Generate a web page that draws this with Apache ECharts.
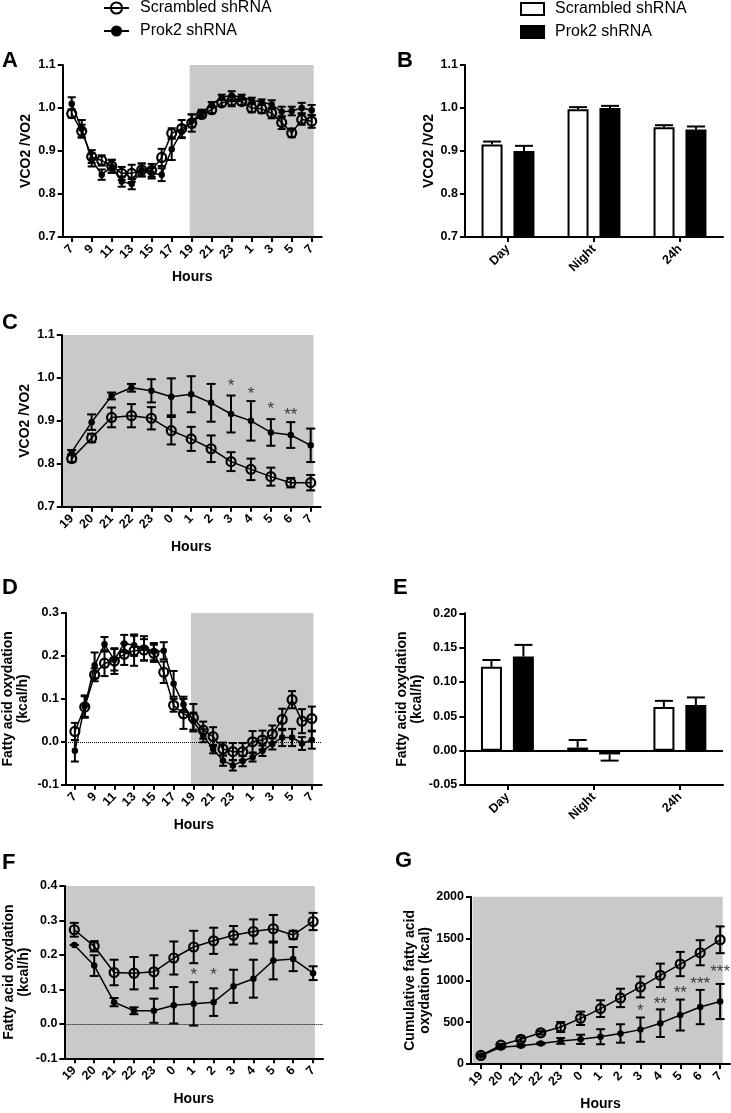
<!DOCTYPE html>
<html>
<head>
<meta charset="utf-8">
<script src="https://cdn.jsdelivr.net/npm/echarts@6/dist/echarts.min.js"></script>
<style>
html,body{margin:0;padding:0;background:#fff;}
#chart{width:731px;height:1113px;}
</style>
</head>
<body>
<div id="chart"></div>
<script>
// ---------- DATA ----------
const HOURS_FULL = ['7','8','9','10','11','12','13','14','15','16','17','18','19','20','21','22','23','0','1','2','3','4','5','6','7'];
const HOURS_FULL_TICKS = [0,2,4,6,8,10,12,14,16,18,20,22,24];
const HOURS_NIGHT = ['19','20','21','22','23','0','1','2','3','4','5','6','7'];
const HOURS_NIGHT_TICKS = [0,1,2,3,4,5,6,7,8,9,10,11,12];
const PERIODS = ['Day','Night','24h'];
const SCR_NAME = 'Scrambled shRNA';
const PRK_NAME = 'Prok2 shRNA';

// A: RQ (VCO2/VO2), 24 h
const A_SCR = [0.987,0.946,0.887,0.878,0.865,0.848,0.848,0.856,0.855,0.885,0.941,0.952,0.965,0.985,0.996,1.012,1.016,1.015,1.000,0.998,0.988,0.966,0.942,0.973,0.969];
const A_SCR_ERR = [0.010,0.015,0.015,0.012,0.015,0.015,0.020,0.015,0.015,0.020,0.012,0.020,0.020,0.008,0.008,0.008,0.012,0.008,0.010,0.010,0.012,0.015,0.010,0.012,0.015];
const A_PRK = [1.010,0.952,0.879,0.845,0.864,0.829,0.823,0.856,0.848,0.845,0.904,0.945,0.970,0.988,1.008,1.025,1.029,1.025,1.018,1.014,1.008,0.991,0.993,1.000,0.995];
const A_PRK_ERR = [0.015,0.020,0.015,0.012,0.015,0.012,0.012,0.015,0.012,0.015,0.025,0.015,0.015,0.008,0.006,0.006,0.010,0.006,0.006,0.006,0.010,0.012,0.010,0.012,0.012];
const A_SHADE = [11.8, 24.2];

// B: RQ by period
const B_SCR = [0.915, 0.997, 0.955];
const B_SCR_ERR = [0.007, 0.005, 0.005];
const B_PRK = [0.900, 1.000, 0.950];
const B_PRK_ERR = [0.012, 0.005, 0.007];

// C: RQ, night
const C_SCR = [0.812,0.860,0.908,0.912,0.906,0.877,0.858,0.835,0.805,0.787,0.770,0.756,0.756];
const C_SCR_ERR = [0.008,0.010,0.023,0.027,0.026,0.032,0.028,0.031,0.022,0.025,0.021,0.011,0.018];
const C_PRK = [0.827,0.897,0.958,0.977,0.970,0.956,0.962,0.942,0.916,0.900,0.873,0.867,0.843];
const C_PRK_ERR = [0.005,0.018,0.008,0.009,0.027,0.043,0.042,0.044,0.043,0.046,0.031,0.030,0.039];
const C_SHADE = [-0.44, 12.14];
const C_SIG = [[8,0.988,'*'],[9,0.969,'*'],[10,0.935,'*'],[11,0.919,'**']];

// D: fatty acid oxidation, 24 h
const D_SCR = [0.024,0.081,0.156,0.183,0.188,0.204,0.212,0.214,0.206,0.162,0.085,0.065,0.056,0.027,0.012,-0.017,-0.023,-0.023,0.000,0.004,0.018,0.052,0.098,0.048,0.054];
const D_SCR_ERR = [0.020,0.025,0.015,0.030,0.030,0.025,0.035,0.025,0.020,0.025,0.015,0.035,0.032,0.020,0.022,0.015,0.020,0.020,0.025,0.022,0.020,0.025,0.020,0.028,0.028];
const D_PRK = [-0.021,0.083,0.178,0.227,0.191,0.229,0.225,0.218,0.210,0.212,0.135,0.087,0.048,0.014,-0.017,-0.044,-0.055,-0.045,-0.036,-0.021,-0.005,0.010,0.010,-0.004,0.004];
const D_PRK_ERR = [0.025,0.025,0.030,0.017,0.025,0.020,0.025,0.028,0.020,0.020,0.030,0.018,0.020,0.015,0.010,0.012,0.012,0.012,0.010,0.012,0.013,0.020,0.020,0.015,0.020];
const D_SHADE = [11.76, 24.16];

// E: fatty acid oxidation by period
const E_SCR = [0.122, 0.0045, 0.0635];
const E_SCR_ERR = [0.010, 0.011, 0.009];
const E_PRK = [0.137, -0.0055, 0.0665];
const E_PRK_ERR = [0.017, 0.009, 0.011];

// F: fatty acid oxidation, night
const F_SCR = [0.273,0.225,0.149,0.147,0.151,0.191,0.223,0.241,0.257,0.268,0.276,0.258,0.297];
const F_SCR_ERR = [0.020,0.015,0.037,0.047,0.048,0.048,0.047,0.038,0.027,0.035,0.040,0.012,0.025];
const F_PRK = [0.229,0.169,0.063,0.038,0.038,0.054,0.058,0.063,0.109,0.131,0.184,0.188,0.147];
const F_PRK_ERR = [0.000,0.030,0.012,0.010,0.035,0.053,0.063,0.040,0.048,0.055,0.055,0.035,0.020];
const F_SHADE = [-0.45, 12.09];
const F_SIG = [[6,0.149,'*'],[7,0.149,'*']];

// G: cumulative fatty acid oxidation, night
const G_SCR = [102,226,295,373,442,546,662,790,921,1060,1195,1330,1485];
const G_SCR_ERR = [0,15,25,20,60,80,100,110,125,140,145,150,160];
const G_PRK = [102,199,218,245,276,295,326,365,411,488,585,681,747];
const G_PRK_ERR = [0,10,10,10,35,55,90,110,145,165,185,205,210];
const G_SHADE = [-0.42, 12.13];
const G_SIG = [[8,670,'*'],[9,747,'**'],[10,882,'**'],[11,986,'***'],[12,1133,'***']];

// ---------- STYLE / LAYOUT ----------
const FONT = 'Liberation Sans';
const SHADE_COLOR = '#c9c9c9';
const grids = [
  {left:62.7, top:65, width:259, height:172},     // A
  {left:465, top:65, width:258, height:172},      // B
  {left:61.75, top:335, width:258.9, height:171.7}, // C
  {left:62.7, top:613, width:259, height:171.7},  // D
  {left:464.3, top:613.3, width:258.7, height:171.7}, // E
  {left:64.35, top:886, width:258.7, height:172.3}, // F
  {left:471, top:896.7, width:259.1, height:171.6}  // G
];

const axisLine = {show:true, onZero:false, lineStyle:{color:'#000', width:2}};
const axisTick = {show:true, length:5, lineStyle:{color:'#000', width:2}};
const labelStyle = {color:'#000', fontWeight:'bold', fontSize:12.5, fontFamily:FONT};
const nameStyle = {color:'#000', fontWeight:'bold', fontSize:14, fontFamily:FONT, lineHeight:15};

function hourXAxis(gi, labels, ticks, min, max) {
  return {
    type:'value', gridIndex:gi, min:min, max:max,
    axisLine:axisLine,
    axisTick:Object.assign({customValues:ticks}, axisTick),
    axisLabel:Object.assign({customValues:ticks, rotate:45, margin:10,
      formatter:(v)=>labels[Math.round(v)]}, labelStyle),
    splitLine:{show:false},
    name:'Hours', nameLocation:'middle', nameGap:33, nameTextStyle:nameStyle
  };
}
function catXAxis(gi) {
  return {
    type:'category', gridIndex:gi, data:PERIODS,
    axisLine:axisLine,
    axisTick:Object.assign({alignWithLabel:true}, axisTick),
    axisLabel:Object.assign({rotate:45, margin:10, interval:0}, labelStyle),
    splitLine:{show:false}
  };
}
function yAxis(gi, min, max, interval, digits, name, gap) {
  return {
    type:'value', gridIndex:gi, min:min, max:max, interval:interval,
    axisLine:axisLine, axisTick:axisTick,
    axisLabel:Object.assign({margin:7, formatter:(v)=>v.toFixed(digits)}, labelStyle),
    splitLine:{show:false},
    name:name, nameLocation:'middle', nameRotate:90, nameGap:gap, nameTextStyle:nameStyle
  };
}

function errRender(capW, offset, bothCaps) {
  return function(params, api) {
    const x = api.value(0), lo = api.value(1), hi = api.value(2);
    const p1 = api.coord([x, lo]);
    const p2 = api.coord([x, hi]);
    const cx = p1[0] + offset;
    const st = {stroke:'#000', lineWidth:2};
    const ch = [
      {type:'line', shape:{x1:cx, y1:p1[1], x2:cx, y2:p2[1]}, style:st},
      {type:'line', shape:{x1:cx-capW/2, y1:p2[1], x2:cx+capW/2, y2:p2[1]}, style:st}
    ];
    if (bothCaps) ch.push({type:'line', shape:{x1:cx-capW/2, y1:p1[1], x2:cx+capW/2, y2:p1[1]}, style:st});
    return {type:'group', children:ch};
  };
}

function lineSeries(name, gi, vals, filled, extra) {
  return Object.assign({
    type:'line', name:name, xAxisIndex:gi, yAxisIndex:gi,
    data: vals.map((v,i)=>[i,v]),
    symbol:'circle', symbolSize: filled ? 6.5 : 9,
    itemStyle: filled ? {color:'#000'} : {color:'rgba(0,0,0,0)', borderColor:'#000', borderWidth:2.2},
    lineStyle:{color:'#000', width:1.5},
    emphasis:{disabled:true}, silent:true, z: filled ? 4 : 5, animation:false
  }, extra || {});
}
function lineErr(gi, vals, errs, capW) {
  return {
    type:'custom', xAxisIndex:gi, yAxisIndex:gi, silent:true, z:3, animation:false,
    encode:{x:0, y:[1,2]},
    data: vals.map((v,i)=>[i, v-errs[i], v+errs[i]]),
    renderItem: errRender(capW, 0, true)
  };
}
function barErr(gi, vals, errs, offset) {
  return {
    type:'custom', xAxisIndex:gi, yAxisIndex:gi, silent:true, z:6, animation:false,
    encode:{x:0, y:[1,2]},
    data: vals.map((v,i)=>[i, v, v + (v>=0 ? errs[i] : -errs[i])]),
    renderItem: errRender(18, offset, false)
  };
}
function barSeries(name, gi, vals, open, extra) {
  return Object.assign({
    type:'bar', name:name, xAxisIndex:gi, yAxisIndex:gi, data:vals,
    barWidth:21, barGap:'52%', clip:true, silent:true, animation:false,
    itemStyle: open ? {color:'#fff', borderColor:'#000', borderWidth:2} : {color:'#000', borderColor:'#000', borderWidth:2}
  }, extra || {});
}
function shadeArea(range, ymin, ymax) {
  return {silent:true, itemStyle:{color:SHADE_COLOR}, z:0,
    data:[[{xAxis:range[0], yAxis:ymin}, {xAxis:range[1], yAxis:ymax}]]};
}
function zeroLine(type, width) {
  return {silent:true, symbol:'none', label:{show:false},
    lineStyle:{color:'#000', type:type, width:width}, data:[{yAxis:0}], animation:false};
}
function sigSeries(gi, sig) {
  return {
    type:'scatter', xAxisIndex:gi, yAxisIndex:gi, symbolSize:0, silent:true, z:7, animation:false,
    data: sig.map(s=>({value:[s[0], s[1]], name:s[2]})),
    label:{show:true, position:'inside', formatter:'{b}', fontSize:17, color:'#111', fontFamily:FONT, offset:[0,3]}
  };
}

const letter = (t, left, top) => ({text:t, left:left, top:top, padding:0,
  textStyle:{fontSize:22, fontWeight:'bold', color:'#000', fontFamily:FONT}});

const option = {
  backgroundColor:'#fff',
  animation:false,
  title:[letter('A',2,50), letter('B',397,50), letter('C',2,312), letter('D',2,577),
         letter('E',393,577), letter('F',2,852), letter('G',395,850)],
  legend:[
    {data:[SCR_NAME, PRK_NAME], orient:'vertical', left:103, top:0, padding:0,
     itemWidth:25, itemHeight:14, itemGap:7, selectedMode:false,
     textStyle:{fontSize:16, color:'#000', fontFamily:FONT, padding:[0,0,0,6]}},
    {data:[
      {name:SCR_NAME, icon:'rect', itemStyle:{color:'#fff', borderColor:'#000', borderWidth:2}},
      {name:PRK_NAME, icon:'rect', itemStyle:{color:'#000', borderColor:'#000', borderWidth:2}}],
     orient:'vertical', left:520, top:1, padding:0,
     itemWidth:23, itemHeight:12, itemGap:7, selectedMode:false,
     textStyle:{fontSize:16, color:'#000', fontFamily:FONT, padding:[0,0,0,6]}}
  ],
  grid: grids,
  xAxis:[
    hourXAxis(0, HOURS_FULL, HOURS_FULL_TICKS, -0.9, 25),
    catXAxis(1),
    hourXAxis(2, HOURS_NIGHT, HOURS_NIGHT_TICKS, -0.5, 12.5),
    hourXAxis(3, HOURS_FULL, HOURS_FULL_TICKS, -0.9, 25),
    catXAxis(4),
    hourXAxis(5, HOURS_NIGHT, HOURS_NIGHT_TICKS, -0.5, 12.5),
    hourXAxis(6, HOURS_NIGHT, HOURS_NIGHT_TICKS, -0.5, 12.5)
  ],
  yAxis:[
    yAxis(0, 0.7, 1.1, 0.1, 1, 'VCO2 /VO2', 29),
    yAxis(1, 0.7, 1.1, 0.1, 1, 'VCO2 /VO2', 28),
    yAxis(2, 0.7, 1.1, 0.1, 1, 'VCO2 /VO2', 29),
    yAxis(3, -0.1, 0.3, 0.1, 1, 'Fatty acid oxydation\n(kcal/h)', 35),
    yAxis(4, -0.05, 0.2, 0.05, 2, 'Fatty acid oxydation\n(kcal/h)', 38),
    yAxis(5, -0.1, 0.4, 0.1, 1, 'Fatty acid oxydation\n(kcal/h)', 33),
    yAxis(6, 0, 2000, 500, 0, 'Cumulative fatty acid\noxydation (kcal)', 32)
  ],
  series:[
    // A
    lineSeries(SCR_NAME, 0, A_SCR, false, {markArea:shadeArea(A_SHADE, 0.7, 1.1)}),
    lineSeries(PRK_NAME, 0, A_PRK, true),
    lineErr(0, A_SCR, A_SCR_ERR, 8),
    lineErr(0, A_PRK, A_PRK_ERR, 8),
    // B
    barSeries(SCR_NAME, 1, B_SCR, true),
    barSeries(PRK_NAME, 1, B_PRK, false),
    barErr(1, B_SCR, B_SCR_ERR, -16),
    barErr(1, B_PRK, B_PRK_ERR, 16),
    // C
    lineSeries(SCR_NAME, 2, C_SCR, false, {markArea:shadeArea(C_SHADE, 0.7, 1.1)}),
    lineSeries(PRK_NAME, 2, C_PRK, true),
    lineErr(2, C_SCR, C_SCR_ERR, 9),
    lineErr(2, C_PRK, C_PRK_ERR, 9),
    sigSeries(2, C_SIG),
    // D
    lineSeries(SCR_NAME, 3, D_SCR, false, {markArea:shadeArea(D_SHADE, -0.1, 0.3), markLine:zeroLine('dotted', 1)}),
    lineSeries(PRK_NAME, 3, D_PRK, true),
    lineErr(3, D_SCR, D_SCR_ERR, 8),
    lineErr(3, D_PRK, D_PRK_ERR, 8),
    // E
    barSeries(SCR_NAME, 4, E_SCR, true, {markLine:zeroLine('solid', 2)}),
    barSeries(PRK_NAME, 4, E_PRK, false),
    barErr(4, E_SCR, E_SCR_ERR, -16),
    barErr(4, E_PRK, E_PRK_ERR, 16),
    // F
    lineSeries(SCR_NAME, 5, F_SCR, false, {markArea:shadeArea(F_SHADE, -0.1, 0.4), markLine:zeroLine('dotted', 1)}),
    lineSeries(PRK_NAME, 5, F_PRK, true),
    lineErr(5, F_SCR, F_SCR_ERR, 9),
    lineErr(5, F_PRK, F_PRK_ERR, 9),
    sigSeries(5, F_SIG),
    // G
    lineSeries(SCR_NAME, 6, G_SCR, false, {markArea:shadeArea(G_SHADE, 0, 2000)}),
    lineSeries(PRK_NAME, 6, G_PRK, true),
    lineErr(6, G_SCR, G_SCR_ERR, 9),
    lineErr(6, G_PRK, G_PRK_ERR, 9),
    sigSeries(6, G_SIG)
  ]
};

const chart = echarts.init(document.getElementById('chart'), null, {renderer:'canvas'});
chart.setOption(option);
</script>
</body>
</html>
